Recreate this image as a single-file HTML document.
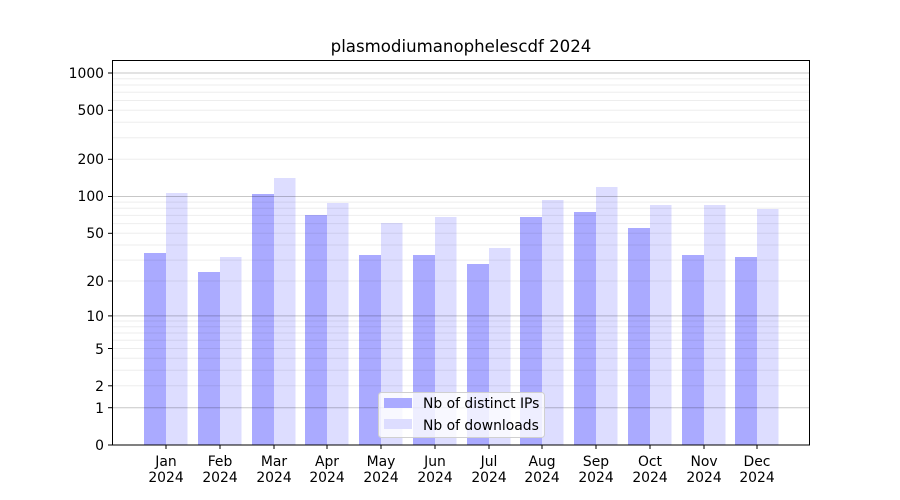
<!DOCTYPE html>
<html><head><meta charset="utf-8"><style>body{margin:0;background:#fff}svg{display:block;font-family:"DejaVu Sans","Liberation Sans",sans-serif}</style></head><body>
<svg width="900" height="500" viewBox="0 0 900 500">
<rect width="900" height="500" fill="#fff"/>
<g>
<rect x="144" y="253" width="22" height="192" fill="#aaaaff"/><rect x="166" y="193" width="21.5" height="252" fill="#ddddff"/>
<rect x="198" y="272" width="22" height="173" fill="#aaaaff"/><rect x="220" y="257" width="21.5" height="188" fill="#ddddff"/>
<rect x="252" y="194" width="22" height="251" fill="#aaaaff"/><rect x="274" y="178" width="21.5" height="267" fill="#ddddff"/>
<rect x="305" y="215" width="22" height="230" fill="#aaaaff"/><rect x="327" y="203" width="21.5" height="242" fill="#ddddff"/>
<rect x="359" y="255" width="22" height="190" fill="#aaaaff"/><rect x="381" y="223" width="21.5" height="222" fill="#ddddff"/>
<rect x="413" y="255" width="22" height="190" fill="#aaaaff"/><rect x="435" y="217" width="21.5" height="228" fill="#ddddff"/>
<rect x="467" y="264" width="22" height="181" fill="#aaaaff"/><rect x="489" y="248" width="21.5" height="197" fill="#ddddff"/>
<rect x="520" y="217" width="22" height="228" fill="#aaaaff"/><rect x="542" y="200" width="21.5" height="245" fill="#ddddff"/>
<rect x="574" y="212" width="22" height="233" fill="#aaaaff"/><rect x="596" y="187" width="21.5" height="258" fill="#ddddff"/>
<rect x="628" y="228" width="22" height="217" fill="#aaaaff"/><rect x="650" y="205" width="21.5" height="240" fill="#ddddff"/>
<rect x="682" y="255" width="22" height="190" fill="#aaaaff"/><rect x="704" y="205" width="21.5" height="240" fill="#ddddff"/>
<rect x="735" y="257" width="22" height="188" fill="#aaaaff"/><rect x="757" y="209" width="21.5" height="236" fill="#ddddff"/>
</g>
<g stroke="#000" stroke-opacity="0.07" stroke-width="1">
<line x1="112" x2="810" y1="385.8" y2="385.8"/><line x1="112" x2="810" y1="370.3" y2="370.3"/><line x1="112" x2="810" y1="358.3" y2="358.3"/><line x1="112" x2="810" y1="348.5" y2="348.5"/><line x1="112" x2="810" y1="340.2" y2="340.2"/><line x1="112" x2="810" y1="333" y2="333"/><line x1="112" x2="810" y1="326.7" y2="326.7"/><line x1="112" x2="810" y1="321" y2="321"/>
<line x1="112" x2="810" y1="281" y2="281"/><line x1="112" x2="810" y1="260.1" y2="260.1"/><line x1="112" x2="810" y1="245" y2="245"/><line x1="112" x2="810" y1="233.3" y2="233.3"/><line x1="112" x2="810" y1="223.6" y2="223.6"/><line x1="112" x2="810" y1="215.4" y2="215.4"/><line x1="112" x2="810" y1="208.3" y2="208.3"/><line x1="112" x2="810" y1="202.1" y2="202.1"/>
<line x1="112" x2="810" y1="159.3" y2="159.3"/><line x1="112" x2="810" y1="137.8" y2="137.8"/><line x1="112" x2="810" y1="122.3" y2="122.3"/><line x1="112" x2="810" y1="110.3" y2="110.3"/><line x1="112" x2="810" y1="100.5" y2="100.5"/><line x1="112" x2="810" y1="92.2" y2="92.2"/><line x1="112" x2="810" y1="85" y2="85"/><line x1="112" x2="810" y1="78.7" y2="78.7"/>
</g>
<g stroke="#000" stroke-opacity="0.22" stroke-width="1">
<line x1="112" x2="810" y1="407.7" y2="407.7"/><line x1="112" x2="810" y1="315.9" y2="315.9"/><line x1="112" x2="810" y1="196.5" y2="196.5"/><line x1="112" x2="810" y1="73" y2="73"/>
</g>
<rect x="112.5" y="60.5" width="697" height="384.5" fill="none" stroke="#000" stroke-width="1"/>
<g stroke="#000" stroke-width="1">
<line x1="108" x2="112" y1="445" y2="445"/><line x1="108" x2="112" y1="407.7" y2="407.7"/><line x1="108" x2="112" y1="385.8" y2="385.8"/><line x1="108" x2="112" y1="348.5" y2="348.5"/><line x1="108" x2="112" y1="315.9" y2="315.9"/><line x1="108" x2="112" y1="281" y2="281"/><line x1="108" x2="112" y1="233.3" y2="233.3"/><line x1="108" x2="112" y1="196.5" y2="196.5"/><line x1="108" x2="112" y1="159.3" y2="159.3"/><line x1="108" x2="112" y1="110.3" y2="110.3"/><line x1="108" x2="112" y1="73" y2="73"/>
<line x1="166" x2="166" y1="445" y2="449"/><line x1="220" x2="220" y1="445" y2="449"/><line x1="274" x2="274" y1="445" y2="449"/><line x1="327" x2="327" y1="445" y2="449"/><line x1="381" x2="381" y1="445" y2="449"/><line x1="435" x2="435" y1="445" y2="449"/><line x1="489" x2="489" y1="445" y2="449"/><line x1="542" x2="542" y1="445" y2="449"/><line x1="596" x2="596" y1="445" y2="449"/><line x1="650" x2="650" y1="445" y2="449"/><line x1="704" x2="704" y1="445" y2="449"/><line x1="757" x2="757" y1="445" y2="449"/>
</g>
<g font-size="13.9" text-anchor="end" fill="#000">
<text x="104" y="450">0</text><text x="104" y="413">1</text><text x="104" y="391">2</text><text x="104" y="354">5</text><text x="104" y="321">10</text><text x="104" y="286">20</text><text x="104" y="238">50</text><text x="104" y="201">100</text><text x="104" y="164">200</text><text x="104" y="115">500</text><text x="104" y="78">1000</text>
</g>
<g font-size="13.9" text-anchor="middle" fill="#000">
<text x="166" y="466">Jan</text><text x="166" y="482">2024</text>
<text x="220" y="466">Feb</text><text x="220" y="482">2024</text>
<text x="274" y="466">Mar</text><text x="274" y="482">2024</text>
<text x="327" y="466">Apr</text><text x="327" y="482">2024</text>
<text x="381" y="466">May</text><text x="381" y="482">2024</text>
<text x="435" y="466">Jun</text><text x="435" y="482">2024</text>
<text x="489" y="466">Jul</text><text x="489" y="482">2024</text>
<text x="542" y="466">Aug</text><text x="542" y="482">2024</text>
<text x="596" y="466">Sep</text><text x="596" y="482">2024</text>
<text x="650" y="466">Oct</text><text x="650" y="482">2024</text>
<text x="704" y="466">Nov</text><text x="704" y="482">2024</text>
<text x="757" y="466">Dec</text><text x="757" y="482">2024</text>
<text x="461" y="52" font-size="16.6">plasmodiumanophelescdf 2024</text>
</g>
<rect x="378.5" y="392.5" width="166" height="45" rx="3" fill="#fff" fill-opacity="0.8" stroke="#d0d0d0"/>
<rect x="384" y="398" width="28" height="10" fill="#aaaaff"/>
<rect x="384" y="419" width="28" height="10" fill="#ddddff"/>
<text x="423" y="408" font-size="13.9">Nb of distinct IPs</text>
<text x="423" y="430" font-size="13.9">Nb of downloads</text>
</svg>
</body></html>
